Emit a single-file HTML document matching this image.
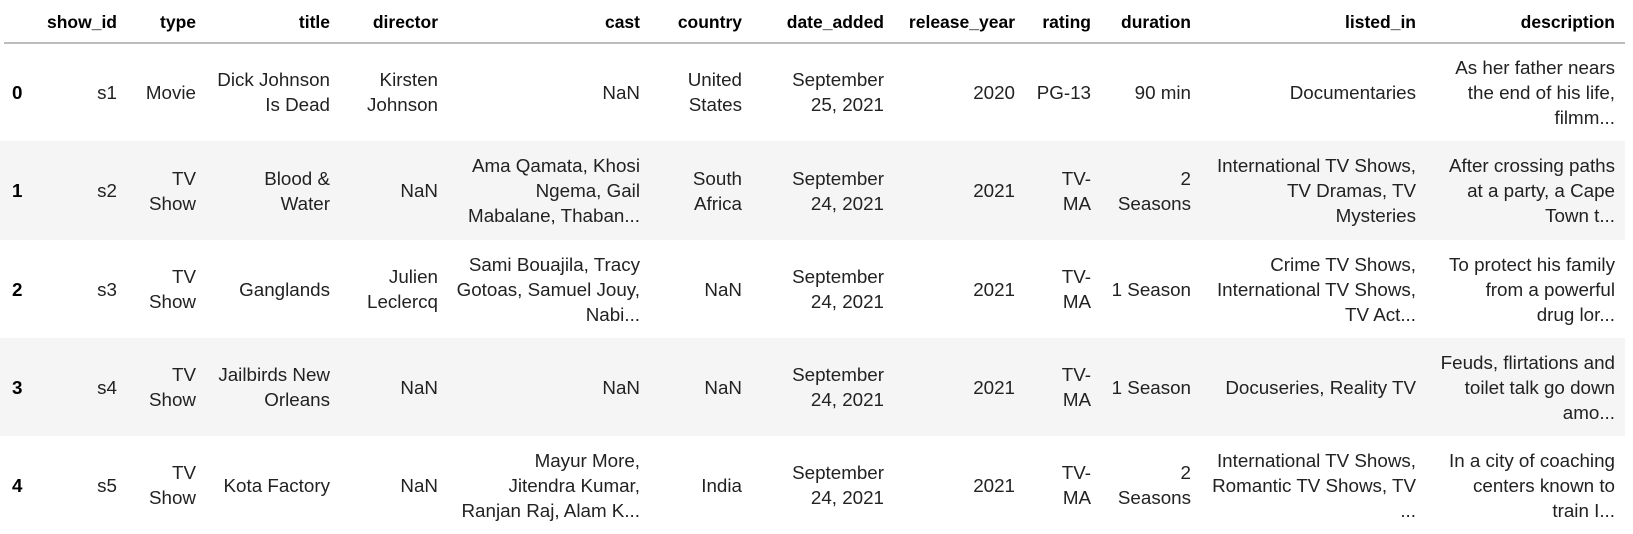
<!DOCTYPE html>
<html><head><meta charset="utf-8">
<style>
html,body{margin:0;padding:0;background:#fff;}
body{width:1633px;height:534px;position:relative;overflow:hidden;font-family:"Liberation Sans",sans-serif;font-size:18.8px;color:#222;}
.c{position:absolute;display:flex;align-items:center;justify-content:flex-end;text-align:right;white-space:nowrap;line-height:25px;}
.h{font-weight:bold;color:#000;font-size:17.5px;}
.idx{justify-content:flex-start;text-align:left;font-weight:bold;color:#000;}
.band{position:absolute;left:0;width:1625px;background:#f5f5f5;}
#hline{position:absolute;left:4px;width:1621px;top:42px;height:2px;background:#bdbdbd;}
</style></head>
<body>
<div id="hline"></div>
<script>
const columns=["show_id","type","title","director","cast","country","date_added","release_year","rating","duration","listed_in","description"];
const rightEdges=[117,196,330,438,640,742,884,1015,1091,1191,1416,1615];
const rowTops=[43,141,240,338,436];
const rowBottoms=[141,240,338,436,534];
const rowsData=[
["s1","Movie","Dick Johnson<br>Is Dead","Kirsten<br>Johnson","NaN","United<br>States","September<br>25, 2021","2020","PG-13","90 min","Documentaries","As her father nears<br>the end of his life,<br>filmm..."],
["s2","TV<br>Show","Blood &amp;<br>Water","NaN","Ama Qamata, Khosi<br>Ngema, Gail<br>Mabalane, Thaban...","South<br>Africa","September<br>24, 2021","2021","TV-<br>MA","2<br>Seasons","International TV Shows,<br>TV Dramas, TV<br>Mysteries","After crossing paths<br>at a party, a Cape<br>Town t..."],
["s3","TV<br>Show","Ganglands","Julien<br>Leclercq","Sami Bouajila, Tracy<br>Gotoas, Samuel Jouy,<br>Nabi...","NaN","September<br>24, 2021","2021","TV-<br>MA","1 Season","Crime TV Shows,<br>International TV Shows,<br>TV Act...","To protect his family<br>from a powerful<br>drug lor..."],
["s4","TV<br>Show","Jailbirds New<br>Orleans","NaN","NaN","NaN","September<br>24, 2021","2021","TV-<br>MA","1 Season","Docuseries, Reality TV","Feuds, flirtations and<br>toilet talk go down<br>amo..."],
["s5","TV<br>Show","Kota Factory","NaN","Mayur More,<br>Jitendra Kumar,<br>Ranjan Raj, Alam K...","India","September<br>24, 2021","2021","TV-<br>MA","2<br>Seasons","International TV Shows,<br>Romantic TV Shows, TV<br>...","In a city of coaching<br>centers known to<br>train I..."]
];
const b=document.body;
for(let r=0;r<rowsData.length;r++){
  if(r%2===1){
    const band=document.createElement('div');
    band.className='band';
    band.style.top=rowTops[r]+'px';
    band.style.height=(rowBottoms[r]-rowTops[r])+'px';
    
    
    b.appendChild(band);
  }
}
for(let i=0;i<columns.length;i++){
  const h=document.createElement('div');
  h.className='c h';
  h.innerHTML=columns[i];
  h.style.right=(1633-rightEdges[i])+'px';
  h.style.top='8px';h.style.height='28px';
  
  
  b.appendChild(h);
}
for(let r=0;r<rowsData.length;r++){
  const ix=document.createElement('div');
  ix.className='c idx';
  ix.textContent=String(r);
  ix.style.left='12px';
  ix.style.top=rowTops[r]+'px';
  ix.style.height=(rowBottoms[r]-rowTops[r])+'px';
  
  
  b.appendChild(ix);
  for(let i=0;i<columns.length;i++){
    const d=document.createElement('div');
    d.className='c';
    d.innerHTML=rowsData[r][i];
    d.style.right=(1633-rightEdges[i])+'px';
    d.style.top=rowTops[r]+'px';
    d.style.height=(rowBottoms[r]-rowTops[r])+'px';
    
    
    b.appendChild(d);
  }
}
</script>
</body></html>
